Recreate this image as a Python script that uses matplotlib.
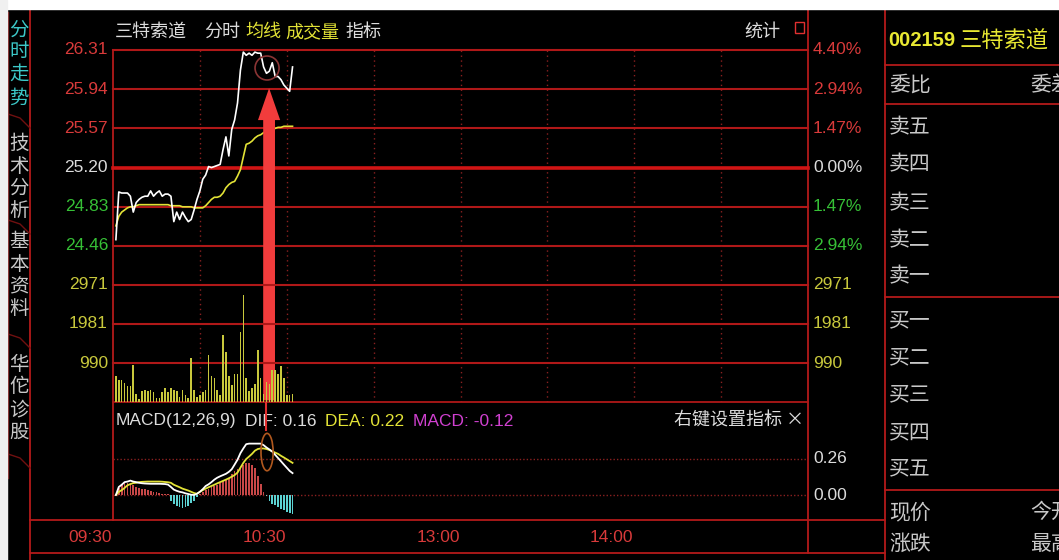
import numpy as np
import matplotlib.pyplot as plt
from matplotlib import font_manager
from matplotlib.patches import Ellipse, Rectangle
from matplotlib.transforms import blended_transform_factory as blend

# one bar per minute, 09:31 onwards
minutes = np.arange(1, 63)

price = [24.52, 24.97, 24.96, 24.96, 24.96, 24.93, 24.78, 24.87, 24.90, 24.92,
         24.93, 24.93, 24.98, 24.93, 24.96, 24.98, 24.93, 24.95, 24.95, 24.93,
         24.69, 24.78, 24.71, 24.78, 24.73, 24.69, 24.71, 24.80, 24.90, 24.98,
         25.09, 25.13, 25.21, 25.20, 25.21, 25.22, 25.23, 25.37, 25.49, 25.31,
         25.56, 25.65, 25.81, 26.12, 26.29, 26.26, 26.28, 26.26, 26.29, 26.28,
         26.28, 26.15, 26.09, 26.11, 26.19, 26.06, 26.06, 26.03, 25.98, 25.95,
         25.92, 26.15]

avg_price = [24.65, 24.74, 24.78, 24.80, 24.82, 24.83, 24.83, 24.84, 24.85, 24.85,
             24.85, 24.85, 24.85, 24.85, 24.85, 24.85, 24.85, 24.85, 24.85, 24.84,
             24.84, 24.84, 24.84, 24.83, 24.83, 24.83, 24.83, 24.82, 24.82, 24.82,
             24.82, 24.84, 24.87, 24.90, 24.92, 24.92, 24.93, 24.96, 25.01, 25.04,
             25.06, 25.07, 25.12, 25.18, 25.30, 25.42, 25.43, 25.45, 25.48, 25.50,
             25.51, 25.53, 25.54, 25.55, 25.56, 25.57, 25.58, 25.58, 25.59, 25.59,
             25.59, 25.59]

volume = [660, 569, 569, 482, 416, 416, 931, 213, 68, 272,
          315, 272, 315, 254, 112, 112, 254, 365, 254, 365,
          315, 272, 127, 315, 170, 112, 1117, 315, 127, 170,
          254, 315, 1185, 660, 609, 315, 170, 1693, 1269, 660,
          424, 721, 721, 1777, 2726, 609, 272, 365, 467, 1330,
          609, 213, 500, 467, 822, 822, 721, 906, 619, 170,
          170, 213]

dif = [0.000, 0.058, 0.074, 0.093, 0.097, 0.104, 0.097, 0.093, 0.088, 0.085,
       0.083, 0.082, 0.081, 0.081, 0.081, 0.081, 0.080, 0.079, 0.075, 0.058,
       0.039, 0.030, 0.023, 0.019, 0.012, 0.007, 0.002, 0.000, 0.009, 0.023,
       0.042, 0.065, 0.077, 0.093, 0.111, 0.125, 0.135, 0.144, 0.153, 0.167,
       0.186, 0.220, 0.255, 0.302, 0.336, 0.367, 0.371, 0.371, 0.371, 0.371,
       0.371, 0.360, 0.343, 0.329, 0.313, 0.290, 0.267, 0.244, 0.220, 0.197,
       0.174, 0.158]

dea = [0.000, 0.023, 0.035, 0.051, 0.070, 0.079, 0.086, 0.088, 0.093, 0.095,
       0.096, 0.097, 0.097, 0.097, 0.097, 0.097, 0.096, 0.094, 0.092, 0.088,
       0.074, 0.065, 0.056, 0.046, 0.039, 0.032, 0.023, 0.014, 0.009, 0.023,
       0.035, 0.046, 0.056, 0.065, 0.074, 0.084, 0.093, 0.102, 0.111, 0.121,
       0.132, 0.144, 0.162, 0.197, 0.232, 0.260, 0.278, 0.297, 0.320, 0.332,
       0.336, 0.336, 0.332, 0.325, 0.316, 0.306, 0.297, 0.283, 0.271, 0.258,
       0.245, 0.232]

macd_bar = [0.010, 0.050, 0.080, 0.090, 0.090, 0.080, 0.070, 0.060, 0.050, 0.045,
            0.040, 0.035, 0.030, 0.025, 0.020, 0.015, 0.010, 0.008, 0.005, -0.046,
            -0.065, -0.078, -0.088, -0.093, -0.090, -0.081, -0.060, -0.040, -0.015, 0.010,
            0.025, 0.035, 0.046, 0.055, 0.065, 0.075, 0.088, 0.100, 0.110, 0.120,
            0.150, 0.170, 0.190, 0.205, 0.220, 0.228, 0.232, 0.220, 0.195, 0.140,
            0.080, 0.020, -0.010, -0.046, -0.065, -0.074, -0.088, -0.100, -0.110, -0.120,
            -0.130, -0.140]

price_ticks = [26.31, 25.94, 25.57, 25.20, 24.83, 24.46]
pct_labels = ['4.40%', '2.94%', '1.47%', '0.00%', '1.47%', '2.94%']
vol_ticks = [2971, 1981, 990]
macd_ticks = [0.26, 0.00]
time_ticks = [0, 60, 120, 180]
time_labels = ['09:30', '10:30', '13:00', '14:00']
tabs = ['分时走势', '技术分析', '基本资料', '华佗诊股']
book_rows = ['卖五', '卖四', '卖三', '卖二', '卖一', '买一', '买二', '买三', '买四', '买五']


def pick(names, alt):
    for name in names:
        try:
            font_manager.findfont(name, fallback_to_default=False)
            return name
        except ValueError:
            pass
    return alt


NUM = pick(['Liberation Sans Narrow', 'Liberation Sans'], 'DejaVu Sans')
CJK = 'Noto Sans CJK SC'
plt.rcParams['font.family'] = [CJK, 'DejaVu Sans']

RED = '#b41a1a'
GRID = '#b01818'
DOT = '#8a2020'
WHITE = '#dcdcdc'
YEL = '#e2e236'
VOLC = '#c8c83c'
UP = '#d83a3a'
DOWN = '#36c036'

W, H = 1059, 560
fig = plt.figure(figsize=(W / 100, H / 100), dpi=100, facecolor='black')

bg = fig.add_axes([0, 0, 1, 1])
bg.set_xlim(0, W)
bg.set_ylim(H, 0)
bg.axis('off')


def px_axes(x0, y0, x1, y1):
    ax = fig.add_axes([x0 / W, 1 - y1 / H, (x1 - x0) / W, (y1 - y0) / H])
    ax.set_facecolor('none')
    ax.axis('off')
    ax.set_xlim(0, 240)
    return ax


ax_p = px_axes(113, 50, 808, 246)
ax_v = px_axes(113, 246, 808, 402)
ax_m = px_axes(113, 402, 808, 520)
ax_p.set_ylim(24.46, 26.31)
ax_v.set_ylim(0, 3961)
ax_m.set_ylim(-0.1805, 0.6715)

# screenshot edges and frame
bg.add_patch(Rectangle((0, 0), W, 9, color='white', zorder=5))
bg.add_patch(Rectangle((0, 0), 7, H, color='#f0f0f0', zorder=5))
for xs, ys in [([30, 30], [10, 560]), ([113, 113], [50, 520]), ([808, 808], [10, 553]),
               ([885, 885], [10, 560]), ([30, 885], [520, 520]), ([30, 885], [553, 553]),
               ([885, 1059], [65, 65]), ([885, 1059], [104, 104]), ([885, 1059], [297, 297]),
               ([885, 1059], [490, 490])]:
    bg.plot(xs, ys, color=RED, lw=1.3)
# left tab outlines
bg.plot([8, 8], [12, 478], color='#701010', lw=1)
for yb in [122, 228, 342, 462]:
    bg.plot([8, 20, 30], [yb - 8, yb - 4, yb + 6], color='#701010', lw=1)

# grid
for v in price_ticks:
    if v == 25.20:
        ax_p.axhline(v, color='#d01414', lw=2.6, zorder=1, clip_on=False)
    else:
        ax_p.axhline(v, color=GRID, lw=1.5, zorder=1, clip_on=False)
for v in vol_ticks:
    ax_v.axhline(v, color=GRID, lw=1.5, zorder=1, clip_on=False)
ax_v.axhline(0, color=GRID, lw=1.3, zorder=1, clip_on=False)
for t in range(30, 240, 30):
    ax_p.axvline(t, color=DOT, lw=1, ls=(0, (1, 2.5)), zorder=0)
    ax_v.axvline(t, color=DOT, lw=1, ls=(0, (1, 2.5)), zorder=0)
for v in macd_ticks:
    ax_m.axhline(v, color=DOT, lw=1, ls=(0, (1, 1.5)), zorder=0)

# price and average
ax_p.plot(minutes, avg_price, color=YEL, lw=1.2, zorder=3)
ax_p.plot(minutes, price, color='white', lw=1.2, zorder=4)

# volume
ax_v.bar(minutes, volume, width=0.55, color=VOLC, zorder=3)

# macd
bar_colors = ['#c84848' if v >= 0 else '#5cd2d2' for v in macd_bar]
ax_m.bar(minutes, macd_bar, width=0.6, color=bar_colors, zorder=2)
ax_m.plot(minutes, dea, color=YEL, lw=1.3, zorder=3)
ax_m.plot(minutes, dif, color='white', lw=1.3, zorder=4)

# red marker arrow
ax_p.annotate('', xy=(53.9, 25.95), xycoords='data', xytext=(53.9, 40), textcoords=ax_v.transData,
              arrowprops=dict(arrowstyle='simple,head_length=2.3,head_width=1.6,tail_width=0.85',
                              mutation_scale=10, fc='#f23c3c', ec='none', shrinkA=0, shrinkB=0),
              annotation_clip=False, zorder=6)
ax_m.axvline(52.8, ymin=0.76, ymax=1, color='#e03030', lw=1.5, zorder=6)
ax_p.add_patch(Ellipse((53.2, 26.14), 8.3, 0.226, fill=False, ec='#8a3434', lw=1.2, zorder=5))
ax_m.add_patch(Ellipse((53.2, 0.31), 4.2, 0.27, fill=False, ec='#b0581e', lw=1.2, zorder=5))

# axis labels
num = dict(family=[NUM, 'DejaVu Sans'], fontsize=12.5)
pt = blend(bg.transData, ax_p.transData)
colors = [UP, UP, UP, WHITE, DOWN, DOWN]
for v, lab, c in zip(price_ticks, pct_labels, colors):
    ax_p.text(108, v, f'{v:.2f}', transform=pt, ha='right', va='center', color=c, **num)
    ax_p.text(813, v, lab, transform=pt, ha='left', va='center', color=c, **num)
vt = blend(bg.transData, ax_v.transData)
for v in vol_ticks:
    ax_v.text(108, v, str(v), transform=vt, ha='right', va='center', color=VOLC, **num)
    ax_v.text(813, v, str(v), transform=vt, ha='left', va='center', color=VOLC, **num)
mt = blend(bg.transData, ax_m.transData)
for v in macd_ticks:
    ax_m.text(813, v, f'{v:.2f}', transform=mt, ha='left', va='center', color=WHITE, **num)
tt = blend(ax_m.transData, bg.transData)
for t, lab in zip(time_ticks, time_labels):
    ax_m.text(t - 0.3, 538, lab, transform=tt, ha='right', va='center', color=UP, **num)

# header
hdr = dict(fontsize=13, va='center')
bg.text(115, 32, '三特索道', color=WHITE, **hdr)
bg.text(204, 32, '分时', color=WHITE, **hdr)
bg.text(245, 32, '均线', color=YEL, **hdr)
bg.text(285, 32, '成交量', color=YEL, **hdr)
bg.text(345, 32, '指标', color=WHITE, **hdr)
bg.text(744, 32, '统计', color=WHITE, **hdr)
bg.add_patch(Rectangle((795, 22), 9, 11, fill=False, ec='#e03030', lw=1))

# macd title row
mh = dict(family=[NUM, CJK], fontsize=12.5, va='center')
bg.text(116, 421, 'MACD(12,26,9)', color=WHITE, **mh)
bg.text(245, 421, 'DIF: 0.16', color=WHITE, **mh)
bg.text(325, 421, 'DEA: 0.22', color=YEL, **mh)
bg.text(413, 421, 'MACD: -0.12', color='#d040d0', **mh)
bg.text(804, 421, '右键设置指标 ×', color=WHITE, ha='right', **hdr)

# side tabs
tab_y = [[30, 51, 74, 98], [143, 166, 188, 210], [242, 264, 287, 309], [364, 387, 410, 432]]
for i, (name, ys) in enumerate(zip(tabs, tab_y)):
    c = '#3cc8c8' if i == 0 else '#c8c8c8'
    for ch, y in zip(name, ys):
        bg.text(19, y, ch, color=c, fontsize=14, ha='center', va='center')

# quote panel
bg.text(888, 40, '002159', color='#e8e832', fontsize=14.5, va='center',
        family=[NUM, 'DejaVu Sans'], fontweight='bold')
bg.text(960, 40, '三特索道', color='#e8e832', fontsize=16, va='center')
side = dict(fontsize=15, va='center', color='#c8c8c8')
bg.text(889, 85, '委比', **side)
bg.text(1030, 85, '委差', **side)
row_y = [127, 164, 203, 240, 276, 320, 357, 394, 432, 468]
for lab, y in zip(book_rows, row_y):
    bg.text(889, y, lab, **side)
bg.text(889, 512, '现价', **side)
bg.text(889, 544, '涨跌', **side)
bg.text(1030, 512, '今开', **side)
bg.text(1030, 544, '最高', **side)

fig.savefig('out.png', dpi=100, facecolor='black')
